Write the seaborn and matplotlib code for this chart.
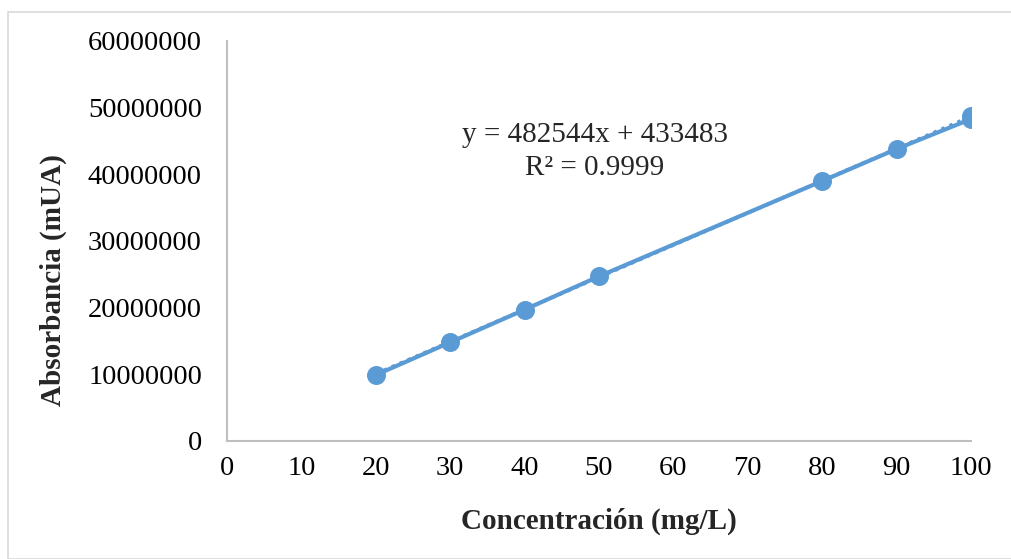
import numpy as np
import pandas as pd
import matplotlib
matplotlib.use("Agg")
import matplotlib.pyplot as plt
import seaborn as sns
from matplotlib.patches import Rectangle

conc = [20, 30, 40, 50, 80, 90, 100, 100]
absorb = [9900000, 14800000, 19700000, 24700000, 39000000, 43800000, 48300000, 48800000]
slope = 482544
intercept = 433483
eq_text = "y = 482544x + 433483"
r2_text = "R² = 0.9999"
xticks = [0, 10, 20, 30, 40, 50, 60, 70, 80, 90, 100]
yticks = [0, 10000000, 20000000, 30000000, 40000000, 50000000, 60000000]

sns.set_theme(style="white")
plt.rcParams['font.family'] = ['Liberation Serif', 'DejaVu Serif']

df = pd.DataFrame({"x": conc, "y": absorb})
color = "#5B9BD5"

fig = plt.figure(figsize=(10.12, 5.59), dpi=100)
ax = fig.add_axes([227/1012, 1-441/559, (971-227)/1012, 400/559])

# trendline (dotted)
tx = np.array([20, 100])
ax.plot(tx, slope*tx + intercept, linestyle=(0, (1, 1.5)), color=color, lw=2.5, zorder=2)
sns.lineplot(data=df, x="x", y="y", ax=ax, color=color, lw=3, sort=False, estimator=None, zorder=3)
sns.scatterplot(data=df, x="x", y="y", ax=ax, color=color, s=160, edgecolor=color, zorder=4)

ax.set_xlim(0, 100)
ax.set_ylim(0, 60000000)
ax.set_xticks(xticks)
ax.set_yticks(yticks)
ax.set_xticklabels([str(v) for v in xticks])
ax.set_yticklabels([str(v) for v in yticks])
ax.tick_params(axis='both', labelsize=20.5, colors='black', length=6, width=1.2, direction='out', color='#BFBFBF')
ax.tick_params(axis='x', pad=5)
ax.tick_params(axis='y', pad=12)
for s in ['top', 'right']:
    ax.spines[s].set_visible(False)
for s in ['left', 'bottom']:
    ax.spines[s].set_color('#BFBFBF')
    ax.spines[s].set_linewidth(1.5)
ax.set_xlabel("Concentración (mg/L)", fontsize=21, fontweight='bold', labelpad=19)
ax.set_ylabel("Absorbancia (mUA)", fontsize=21, fontweight='bold')
ax.yaxis.label.set_va('center')
ax.yaxis.set_label_coords(-0.234, 0.4025)

ax.text(49.4, 45900000, eq_text, fontsize=21, ha='center', va='center')
ax.text(49.4, 40950000, r2_text, fontsize=21, ha='center', va='center')

fig.patches.append(Rectangle((8/1012, 0), 1.1, 1-12/559, transform=fig.transFigure,
                             fill=False, edgecolor='#D9D9D9', lw=1.2, zorder=0))

fig.savefig("out.png", dpi=100)
